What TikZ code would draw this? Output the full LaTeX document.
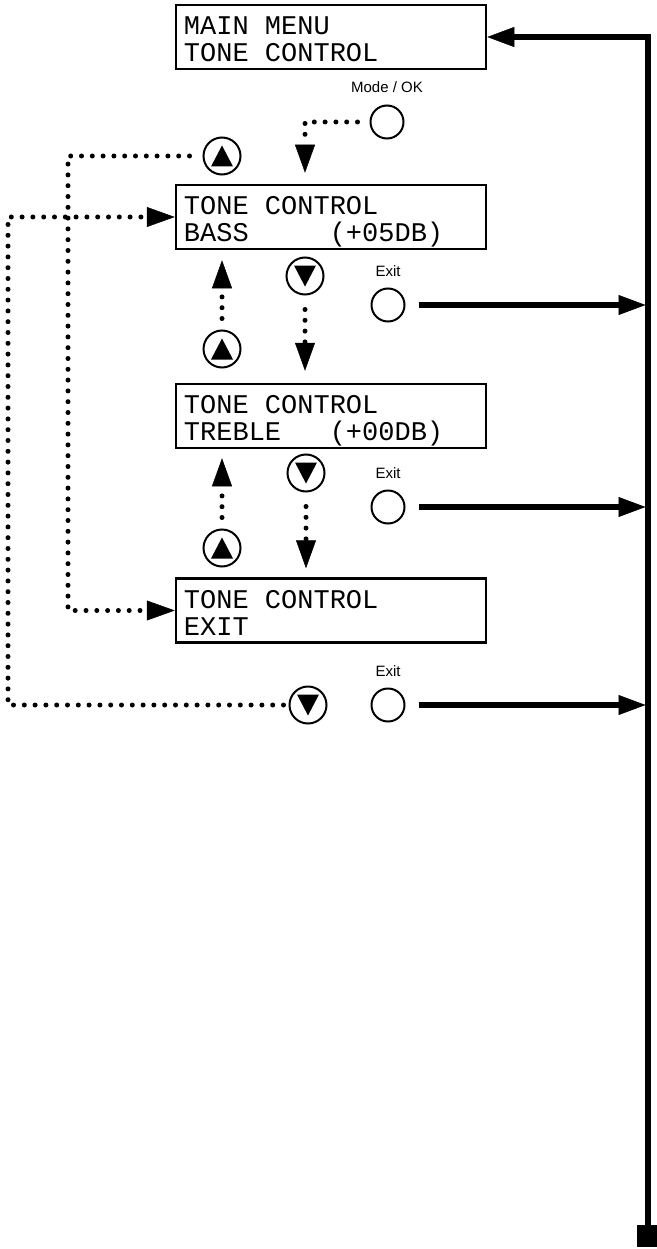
\documentclass[tikz,border=0pt]{standalone}
\usepackage{fontspec}
\setmainfont{Liberation Sans}
\newfontfamily\lcdfont{Liberation Mono}
\usetikzlibrary{arrows.meta}
\tikzset{
 lcd/.style={draw, line width=2.5pt, minimum width=310pt, minimum height=64pt, inner sep=0pt},
 lcdtext/.style={font=\lcdfont\fontsize{27}{27}\selectfont, inner sep=0pt, anchor=base west},
 key/.style={circle, draw, line width=2pt, minimum size=33pt, inner sep=0pt},
 btn/.style={circle, draw, line width=2pt, minimum size=37pt, inner sep=0pt},
 btnup/.style={btn, path picture={\fill ([yshift=10.5pt]path picture bounding box.center) -- ++(11pt,-21pt) -- ++(-22pt,0pt) -- cycle;}},
 btndown/.style={btn, path picture={\fill ([yshift=-10.5pt]path picture bounding box.center) -- ++(11pt,21pt) -- ++(-22pt,0pt) -- cycle;}},
 keylabel/.style={font=\fontsize{15}{15}\selectfont, anchor=base, inner sep=0pt},
 dotline/.style={line width=5pt, line cap=round, dash pattern=on 0pt off 10.8pt},
 dotarrow/.style={dotline, -{Triangle[length=28pt,width=20pt,line width=0.5pt]}},
 thickarrow/.style={line width=5.5pt, line join=miter, -{Triangle[length=27pt,width=20pt,line width=0.5pt]}},
}
\begin{document}
\begin{tikzpicture}[x=1pt,y=-1pt]
\useasboundingbox (0,0) rectangle (656,1249);
% LCD boxes
\node[lcd] (main) at (331,37) {};
\node[lcdtext] (mainA) at ([xshift=9pt,yshift=-31pt]main.north west) {MAIN MENU};
\node[lcdtext] (mainB) at ([xshift=9pt,yshift=-58pt]main.north west) {TONE CONTROL};
\node[lcd] (bass) at (331,217) {};
\node[lcdtext] (bassA) at ([xshift=9pt,yshift=-31pt]bass.north west) {TONE CONTROL};
\node[lcdtext] (bassB) at ([xshift=9pt,yshift=-58pt]bass.north west) {BASS\hphantom{00000}(+05DB)};
\node[lcd] (treble) at (331,416) {};
\node[lcdtext] (trebleA) at ([xshift=9pt,yshift=-31pt]treble.north west) {TONE CONTROL};
\node[lcdtext] (trebleB) at ([xshift=9pt,yshift=-58pt]treble.north west) {TREBLE\hphantom{000}(+00DB)};
\node[lcd] (exitbox) at (331,610.5) {};
\node[lcdtext] (exitA) at ([xshift=9pt,yshift=-31pt]exitbox.north west) {TONE CONTROL};
\node[lcdtext] (exitB) at ([xshift=9pt,yshift=-58pt]exitbox.north west) {EXIT};
% keys
\node[key] (mode) at (387,122) {};
\node[keylabel] (modeL) at ([yshift=12pt]mode.north) {Mode / OK};
\node[key] (exit1) at (388,305) {};
\node[keylabel] (exit1L) at ([yshift=11pt]exit1.north) {Exit};
\node[key] (exit2) at (388,507) {};
\node[keylabel] (exit2L) at ([yshift=11pt]exit2.north) {Exit};
\node[key] (exit3) at (388,705) {};
\node[keylabel] (exit3L) at ([yshift=11pt]exit3.north) {Exit};
% buttons
\node[btnup] (upTop) at (222,156) {};
\node[btnup] (upB) at (222,349) {};
\node[btndown] (downB) at (305,276) {};
\node[btnup] (upC) at (222,548) {};
\node[btndown] (downC) at (306,473) {};
\node[btndown] (downD) at (308,705) {};
% helper coordinates
\coordinate (L1) at (68,0);
\coordinate (L2) at (8,0);
\coordinate (Vtop) at (648,37);
\coordinate (Vleft) at (645.5,0);
\node[fill, minimum width=22pt, minimum height=22pt, inner sep=0pt] (sq) at (648,1236) {};
% dotted connectors
\draw[dotarrow, shorten <=12pt, shorten >=11pt] (mode.west) -- (mode.west -| downB) -- (bass.north -| downB);
\draw[dotarrow, shorten <=13pt] (upTop.west) -- (upTop.west -| L1) -- (exitbox.west -| L1) -- (exitbox.west);
\draw[dotarrow, shorten <=5pt] (downD.west) -- (downD.west -| L2) -- (bass.west -| L2) -- (bass.west);
\draw[dotarrow, shorten <=11pt, shorten >=10pt] (upB.north) -- (bass.south -| upB.north);
\draw[dotarrow, shorten <=14pt, shorten >=12pt] (downB.south) -- (treble.north -| downB.south);
\draw[dotarrow, shorten <=11pt, shorten >=9pt] (upC.north) -- (treble.south -| upC.north);
\draw[dotarrow, shorten <=14pt, shorten >=9pt] (downC.south) -- (exitbox.north -| downC.south);
% solid exit connectors
\draw[thickarrow] (sq.center) -- (Vtop) -- (main.east);
\draw[thickarrow, shorten <=13pt] (exit1.east) -- (exit1.east -| Vleft);
\draw[thickarrow, shorten <=13pt] (exit2.east) -- (exit2.east -| Vleft);
\draw[thickarrow, shorten <=13pt] (exit3.east) -- (exit3.east -| Vleft);
\end{tikzpicture}
\end{document}
